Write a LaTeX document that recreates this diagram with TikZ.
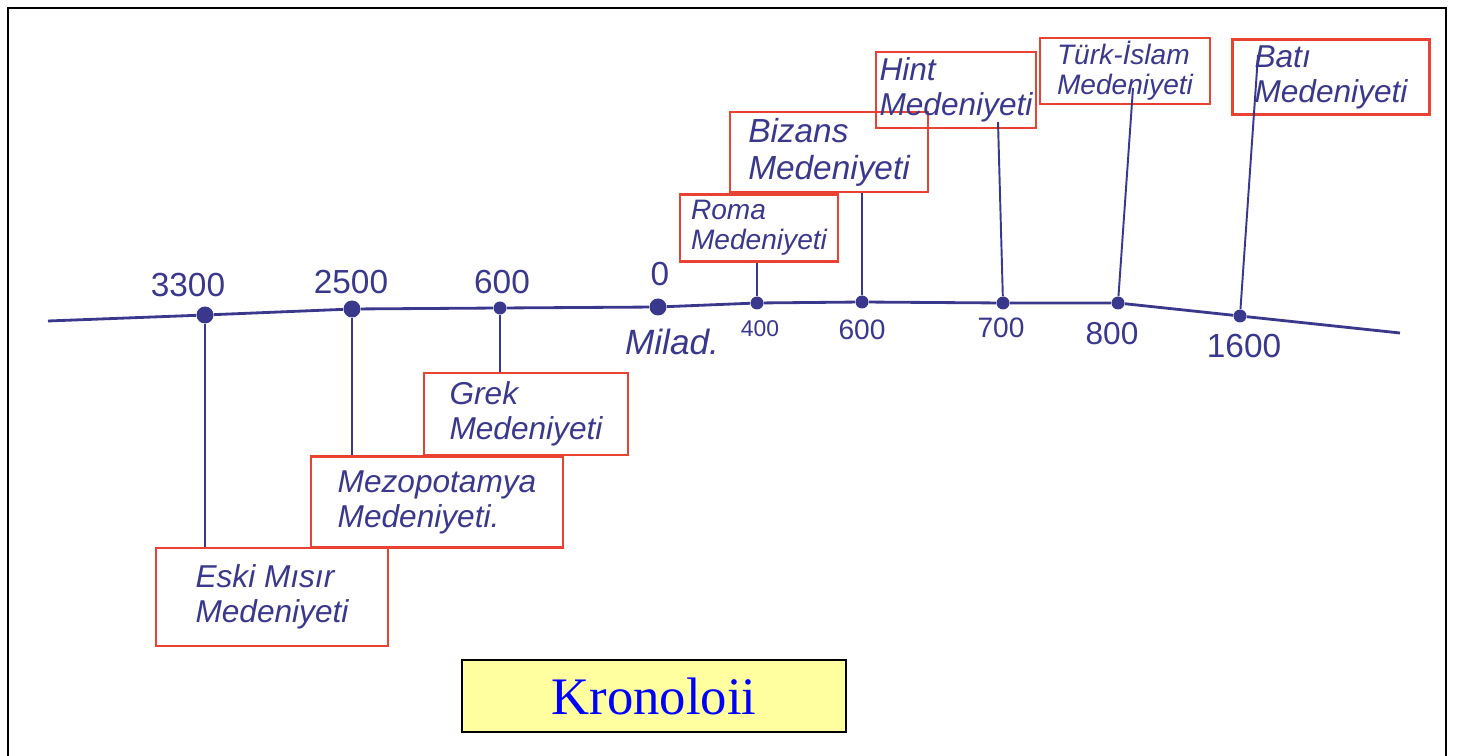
\documentclass[tikz,border=0pt]{standalone}
\usepackage{fontspec}
\setmainfont{Liberation Sans}
\newfontfamily\printfont{Liberation Serif}
\usetikzlibrary{positioning}
\definecolor{inkblue}{RGB}{58,56,140}
\definecolor{penred}{RGB}{232,66,50}
\definecolor{notepad}{RGB}{255,255,160}

\begin{document}
\begin{tikzpicture}[x=0.02cm,y=-0.02cm,every node/.style={text=inkblue}]
  \tikzstyle{civ}=[draw=penred,line width=1.3pt,align=left,inner sep=2pt,
    font=\fontsize{18}{20}\selectfont\itshape]
  \tikzstyle{civsmall}=[civ,font=\fontsize{16}{17}\selectfont\itshape]
  \tikzstyle{dot}=[circle,fill=inkblue,inner sep=0pt,minimum size=0.34cm]
  \tikzstyle{smalldot}=[dot,minimum size=0.26cm]
  \tikzstyle{year}=[inner sep=1pt,font=\fontsize{19}{20}\selectfont]
  \tikzstyle{stem}=[draw=inkblue,line width=1.1pt]
  \useasboundingbox (0,0) rectangle (1460,756);
  \draw[line width=1.2pt] (8,760) -- (8,8) -- (1446,8) -- (1446,760);
  % timeline
  \coordinate (tstart) at (48,321);
  \coordinate (tend) at (1400,333);
  \node[dot] (d3300) at (205,315) {};
  \node[dot] (d2500) at (352,309) {};
  \node[smalldot] (d600bc) at (500,308) {};
  \node[dot] (d0) at (658,307) {};
  \node[smalldot] (d400) at (757,303) {};
  \node[smalldot] (d600) at (862,302) {};
  \node[smalldot] (d700) at (1003,303) {};
  \node[smalldot] (d800) at (1118,303) {};
  \node[smalldot] (d1600) at (1240,316) {};
  \draw[inkblue,line width=1.6pt] (tstart) -- (d3300) -- (d2500) -- (d600bc) -- (d0) -- (d400)
    -- (d600) -- (d700) -- (d800) -- (d1600) -- (tend);
  % years
  \node[year] (y3300) at (188,285) {3300};
  \node[year] (y2500) at (351,282) {2500};
  \node[year] (y600bc) at (502,282) {600};
  \node[year] (y0) at (660,274) {0};
  \node[year,font=\fontsize{20}{20}\selectfont\itshape] (milad) at (672,342) {Milad.};
  \node[year,font=\fontsize{13}{14}\selectfont] (y400) at (760,329) {400};
  \node[year,font=\fontsize{16}{16}\selectfont] (y600) at (862,330) {600};
  \node[year,font=\fontsize{16}{16}\selectfont] (y700) at (1001,328) {700};
  \node[year,font=\fontsize{18}{18}\selectfont] (y800) at (1112,334) {800};
  \node[year] (y1600) at (1244,346) {1600};
  % civilisations
  \node[civ,minimum width=4.64cm,minimum height=1.96cm] (misir) at (272,597) {Eski Mısır\\Medeniyeti};
  \node[civ,minimum width=5.04cm,minimum height=1.82cm] (mezo) at (437,502) {Mezopotamya\\Medeniyeti.};
  \node[civ,minimum width=4.08cm,minimum height=1.64cm] (grek) at (526,414) {Grek\\Medeniyeti};
  \node[civsmall,minimum width=3.16cm,minimum height=1.34cm] (roma) at (759,228) {Roma\\Medeniyeti};
  \node[civ,font=\fontsize{19}{21}\selectfont\itshape,minimum width=3.96cm,minimum height=1.60cm] (bizans) at (829,152) {Bizans\\Medeniyeti};
  \node[civ,minimum width=3.20cm,minimum height=1.52cm] (hint) at (956,90) {Hint\\Medeniyeti};
  \node[civsmall,minimum width=3.40cm,minimum height=1.24cm] (turk) at (1125,71) {Türk-İslam\\Medeniyeti};
  \node[civ,minimum width=3.94cm,minimum height=1.50cm] (bati) at (1331,77) {Batı\\Medeniyeti};
  % stems
  \coordinate (hinttop) at (998,122);
  \coordinate (turktop) at (1133,88);
  \coordinate (batitop) at (1258,55);
  \draw[stem] (d3300) -- (d3300 |- misir.north);
  \draw[stem] (d2500) -- (d2500 |- mezo.north);
  \draw[stem] (d600bc) -- (d600bc |- grek.north);
  \draw[stem] (d400) -- (d400 |- roma.south);
  \draw[stem] (d600) -- (d600 |- bizans.south);
  \draw[stem] (d700) -- (hinttop);
  \draw[stem] (d800) -- (turktop);
  \draw[stem] (d1600) -- (batitop);
  % title
  \node[draw=black,line width=1.2pt,fill=notepad,minimum width=7.68cm,minimum height=1.44cm,
    text=blue,font=\printfont\fontsize{30}{32}\selectfont] (title) at (654,696) {Kronoloii};
\end{tikzpicture}
\end{document}
